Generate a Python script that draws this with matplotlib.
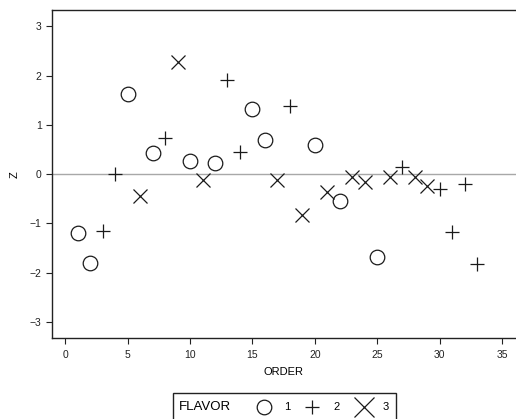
import numpy as np
import matplotlib.pyplot as plt
from matplotlib.lines import Line2D
from matplotlib.patches import Rectangle

plt.rcParams['font.family'] = ['Liberation Sans', 'DejaVu Sans']

# data
order = np.arange(1, 34)
z = [-1.20, -1.81, -1.15, 0.00, 1.62, -0.45, 0.43, 0.73, 2.27, 0.27, -0.11,
     0.23, 1.92, 0.45, 1.32, 0.70, -0.12, 1.38, -0.83, 0.59, -0.36, -0.54,
     -0.05, -0.16, -1.69, -0.05, 0.14, -0.05, -0.24, -0.30, -1.17, -0.19, -1.82]
flavor = [1, 1, 2, 2, 1, 3, 1, 2, 3, 1, 3,
          1, 2, 2, 1, 1, 3, 2, 3, 1, 3, 1,
          3, 3, 1, 3, 2, 3, 3, 2, 2, 2, 2]
flavors = [1, 2, 3]
xticks = [0, 5, 10, 15, 20, 25, 30, 35]
yticks = [-3, -2, -1, 0, 1, 2, 3]

markers = {1: 'o', 2: '+', 3: 'x'}
msizes = {1: 10.5, 2: 9.5, 3: 10.5}
col = '#1a1a1a'

W, H = 516, 419
fig = plt.figure(figsize=(W/100, H/100), dpi=100)
ax = fig.add_axes([52/W, (H-338.3)/H, (516-52)/W, (338.3-10)/H])

order = np.asarray(order)
z = np.asarray(z)
flavor = np.asarray(flavor)
for f in flavors:
    m = flavor == f
    ax.plot(order[m], z[m], ls='none', marker=markers[f], ms=msizes[f],
            mfc='none', mec=col, mew=0.9)

ax.axhline(0, color='#a8a8a8', lw=1, zorder=0)
ax.set_xlim(-1.05, 36.1)
ax.set_ylim(-3.33, 3.33)
ax.set_xticks(xticks)
ax.set_yticks(yticks)
ax.tick_params(labelsize=7.5, length=4, width=0.8, colors='#222222')
ax.tick_params(axis='x', pad=4.5)
for s in ['left', 'bottom', 'top']:
    ax.spines[s].set_color('#222222')
    ax.spines[s].set_linewidth(1.0)
ax.spines['right'].set_visible(False)
ax.set_xlabel('ORDER', fontsize=8, labelpad=5)
ax.set_ylabel('Z', fontsize=8, labelpad=7)

# legend box below the plot
px = lambda x, y: (x/W, 1 - y/H)
rect = Rectangle(px(173.3, 425), (395.7-173.3)/W, (425-393.3)/H,
                 transform=fig.transFigure, fill=False, ec='#222222', lw=1.0)
fig.add_artist(rect)
fig.text(*px(179, 407), 'FLAVOR', fontsize=9.5, va='center', ha='left')
leg_x = [263.7, 311.7, 364.3]
lab_x = [287.7, 336.7, 385.7]
leg_ms = {1: 10.5, 2: 9.5, 3: 14.5}
for f, mx, lx in zip(flavors, leg_x, lab_x):
    fig.add_artist(Line2D([mx/W], [1 - 406.7/H], transform=fig.transFigure,
                          ls='none', marker=markers[f], ms=leg_ms[f],
                          mfc='none', mec=col, mew=0.9))
    fig.text(*px(lx, 407), str(f), fontsize=8, va='center', ha='center')

fig.savefig('out.png', dpi=100)
